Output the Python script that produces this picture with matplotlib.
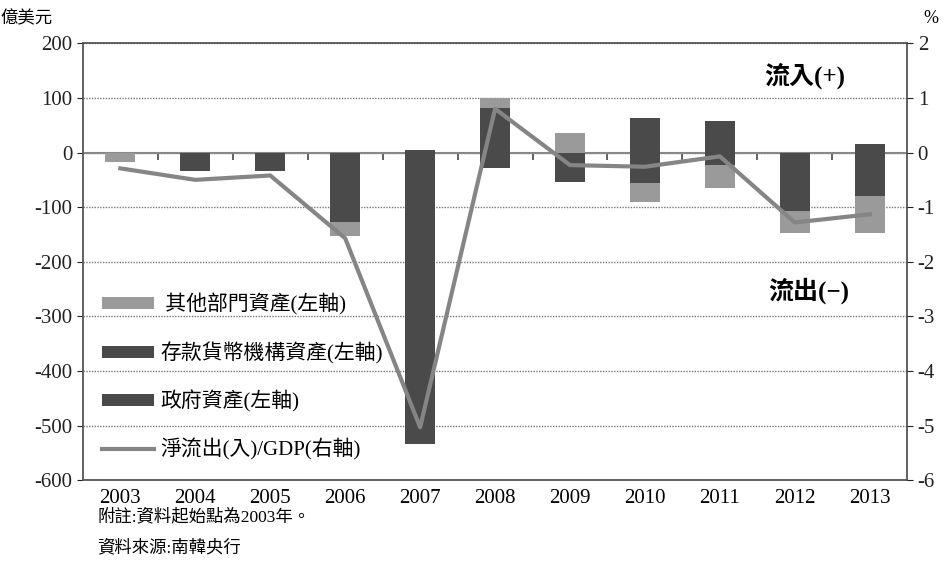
import matplotlib
matplotlib.use("Agg")
import matplotlib.pyplot as plt
import numpy as np

plt.rcParams['font.family'] = ['Liberation Serif', 'Noto Sans CJK TC']
plt.rcParams['axes.unicode_minus'] = False

years = ['2003', '2004', '2005', '2006', '2007', '2008', '2009', '2010', '2011', '2012', '2013']
# 億美元 (left axis)
other_sector = [-17, 0, 0, -24, 0, 18, 36, -35, -42, -40, -68]
deposit_inst = [0, -33, -34, -128, 4, 82, -54, 63, 58, -107, 15]
government = [0, 0, 0, 0, -534, -28, 0, -55, -23, 0, -79]
# % of GDP (right axis)
net_flow_gdp = [-0.29, -0.50, -0.42, -1.57, -5.03, 0.80, -0.23, -0.26, -0.07, -1.28, -1.13]

light = '#9a9a9a'
dark = '#4a4a4a'
line_c = '#858585'

fig = plt.figure(figsize=(9.53, 5.85), dpi=100)
ax = fig.add_axes([0.087, 0.179, 0.865, 0.747])
x = np.arange(len(years))
w = 0.4

# stack positives upward and negatives downward
pos_base = np.zeros(len(years))
neg_base = np.zeros(len(years))
handles = []
for vals, col, lab in [(deposit_inst, dark, '存款貨幣機構資產(左軸)'),
                       (government, dark, '政府資產(左軸)'),
                       (other_sector, light, ' 其他部門資產(左軸)')]:
    v = np.array(vals, dtype=float)
    base = np.where(v >= 0, pos_base, neg_base)
    b = ax.bar(x, v, w, bottom=base, color=col, label=lab, zorder=3)
    handles.append(b)
    pos_base += np.where(v >= 0, v, 0)
    neg_base += np.where(v < 0, v, 0)

ax.set_ylim(-600, 200)
ax.set_yticks(np.arange(-600, 201, 100))
ax.set_xlim(-0.5, len(years) - 0.5)
ax.set_xticks(x)
ax.set_xticklabels(years)
ax.tick_params(axis='x', length=0, pad=6, labelsize=15)
ax.tick_params(axis='y', length=4, direction='out', labelsize=15, colors='#222222')
ax.yaxis.grid(True, linestyle=(0, (1, 1)), color='#777777', linewidth=1.0, zorder=0)
for s in ax.spines.values():
    s.set_color('#555555')
    s.set_linewidth(1.3)
ax.axhline(0, color='#888888', linewidth=1.5, zorder=2)

# category dividers on the zero line
sec = ax.secondary_xaxis(0.75)
sec.set_xticks(np.arange(0.5, len(years) - 1, 1.0))
sec.xaxis.set_ticklabels([])
sec.tick_params(axis='x', length=5, width=1.3, direction='out', colors='#555555')
sec.spines['bottom'].set_visible(False)
sec.spines['top'].set_visible(False)
sec.xaxis.set_ticks_position('bottom')

ax2 = ax.twinx()
ln, = ax2.plot(x, net_flow_gdp, color=line_c, linewidth=3, label='淨流出(入)/GDP(右軸)', zorder=4)
ax2.set_ylim(-6, 2)
ax2.set_yticks(np.arange(-6, 3, 1))
ax2.tick_params(axis='y', length=4, direction='out', labelsize=15, colors='#222222')
for s in ax2.spines.values():
    s.set_visible(False)

leg = ax.legend(handles=[handles[2], handles[0], handles[1], ln],
                labels=[' 其他部門資產(左軸)', '存款貨幣機構資產(左軸)', '政府資產(左軸)', '淨流出(入)/GDP(右軸)'],
                loc='upper left', bbox_to_anchor=(0.0, 0.47), frameon=False,
                fontsize=15, handlelength=2.5, handleheight=0.5, labelspacing=1.25,
                handletextpad=0.3)
leg.set_zorder(5)

fig.text(0.0, 0.968, '億美元', fontsize=12.5, ha='left', va='center')
fig.text(0.985, 0.968, '%', fontsize=13, ha='right', va='center')
ax.text(0.876, 0.925, '流入(+)', transform=ax.transAxes, fontsize=18, ha='center', va='center', fontweight='bold')
ax.text(0.88, 0.435, '流出(−)', transform=ax.transAxes, fontsize=18, ha='center', va='center', fontweight='bold')
fig.text(0.102, 0.116, '附註:資料起始點為2003年。', fontsize=12.5, ha='left', va='center')
fig.text(0.102, 0.064, '資料來源:南韓央行', fontsize=12.5, ha='left', va='center')

fig.savefig('out.png', dpi=100)
